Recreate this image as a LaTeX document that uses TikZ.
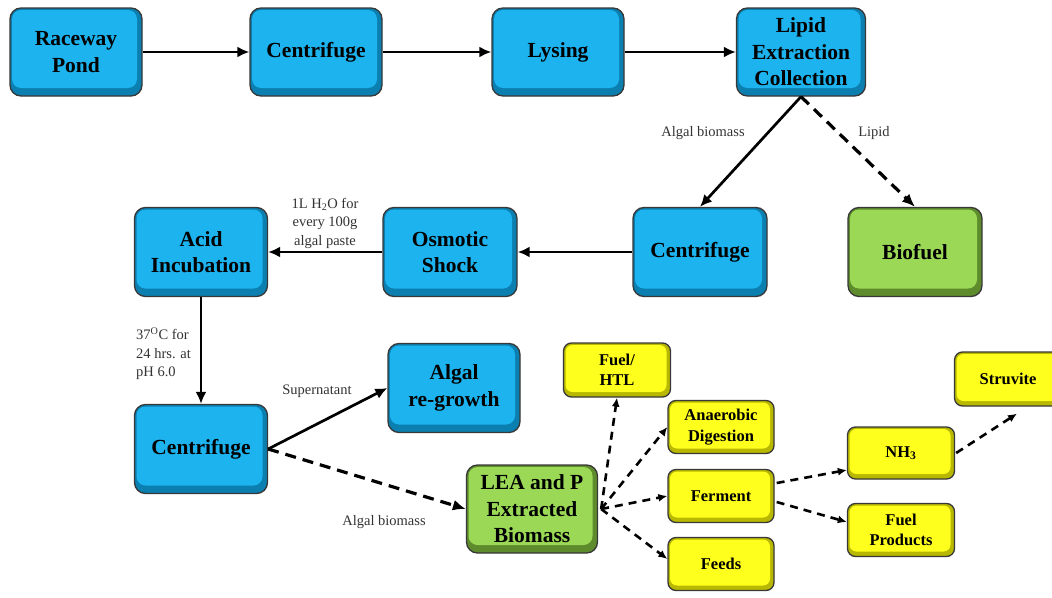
\documentclass[tikz,border=0pt]{standalone}
\usepackage{fontspec}
\setmainfont{Liberation Serif}
\usetikzlibrary{arrows.meta}
\definecolor{bluef}{HTML}{1DB3EE}
\definecolor{blued}{HTML}{0B7FB0}
\definecolor{greenf}{HTML}{9AD856}
\definecolor{greend}{HTML}{5E8C2C}
\definecolor{yellowf}{HTML}{FFFF1E}
\definecolor{yellowd}{HTML}{B8B800}
\definecolor{edge}{HTML}{383838}
\definecolor{lbl}{HTML}{333333}
\tikzset{
  basebox/.style={draw=edge, line width=1.3pt, rounded corners=11pt, align=center, inner sep=0pt, text=black},
  bevel/.style={path picture={\fill[#1, rounded corners=9pt]
      ([xshift=2pt,yshift=-2pt]path picture bounding box.north west) rectangle
      ([xshift=-5pt,yshift=8pt]path picture bounding box.south east);}},
  bluebox/.style={basebox, fill=blued, bevel=bluef, minimum width=132pt, minimum height=88pt,
      font=\fontsize{21.5}{26.5}\selectfont\bfseries},
  greenbox/.style={basebox, fill=greend, bevel=greenf, minimum width=132pt, minimum height=88pt,
      font=\fontsize{21.5}{26.5}\selectfont\bfseries},
  ybox/.style={basebox, rounded corners=8pt, fill=yellowd, minimum width=107pt, minimum height=53pt,
      font=\fontsize{16.5}{20.5}\selectfont\bfseries,
      path picture={\fill[yellowf, rounded corners=7pt]
      ([xshift=2pt,yshift=-2pt]path picture bounding box.north west) rectangle
      ([xshift=-4pt,yshift=5pt]path picture bounding box.south east);}},
  lab/.style={font=\fontsize{14.5}{18.5}\selectfont, text=lbl, align=center, inner sep=0pt},
  sol/.style={line width=2.7pt, -{Latex[length=12pt,width=11pt]}},
  das/.style={line width=3.2pt, dash pattern=on 11pt off 7pt, -{Latex[length=13pt,width=11pt]}},
  dasy/.style={line width=2.6pt, dash pattern=on 8pt off 6pt, -{Latex[length=9pt,width=8pt]}},
}
\begin{document}
\begin{tikzpicture}[x=1pt,y=-1pt]
\useasboundingbox (0,0) rectangle (1052,597);
\fill[white] (0,0) rectangle (1052,597);
% top row
\node[bluebox] (raceway) at (76,52) {Raceway\\Pond};
\node[bluebox] (cent1) at (316,52) {Centrifuge};
\node[bluebox] (lysing) at (558,52) {Lysing};
\node[bluebox, minimum width=129pt] (lipid) at (801,52) {Lipid\\Extraction\\Collection};
% second row
\node[bluebox, minimum width=134pt, minimum height=89pt] (cent2) at (700,252) {Centrifuge};
\node[greenbox, minimum width=134pt, minimum height=89pt] (biofuel) at (915,252) {Biofuel};
\node[bluebox, minimum width=134pt, minimum height=89pt] (osmotic) at (450,252) {Osmotic\\Shock};
\node[bluebox, minimum width=133pt, minimum height=89pt] (acid) at (201,252) {Acid\\Incubation};
% third row
\node[bluebox, minimum width=133pt, minimum height=89pt] (cent3) at (201,449) {Centrifuge};
\node[bluebox, minimum height=89pt] (regrowth) at (454,388) {Algal\\re-growth};
\node[greenbox, minimum width=131pt] (lea) at (532,509) {LEA and P\\Extracted\\Biomass};
% yellow
\node[ybox, minimum height=54pt] (fuelhtl) at (617,370) {Fuel/\\HTL};
\node[ybox, minimum width=106pt] (anaer) at (721,427) {Anaerobic\\Digestion};
\node[ybox, minimum width=106pt] (ferment) at (721,496) {Ferment};
\node[ybox, minimum width=106pt] (feeds) at (721,564) {Feeds};
\node[ybox, minimum height=52pt] (nh3) at (901,453) {NH\textsubscript{3}};
\node[ybox] (fuelprod) at (901,530) {Fuel\\Products};
\node[ybox, minimum height=54pt] (struvite) at (1008,379) {Struvite};
% connectors
\draw[sol] (raceway) -- (cent1);
\draw[sol] (cent1) -- (lysing);
\draw[sol] (lysing) -- (lipid);
\draw[sol] (lipid.south) -- (cent2.north);
\draw[das] (lipid.south) -- (biofuel.north);
\draw[sol] (cent2) -- (osmotic);
\draw[sol] (osmotic) -- (acid);
\draw[sol] (acid) -- (cent3);
\draw[sol] (cent3.east) -- (regrowth.west);
\draw[das] (cent3.east) -- (lea.west);
\coordinate (hub) at ([xshift=3pt]lea.east);
\draw[dasy] (hub) -- (fuelhtl.south);
\draw[dasy] (hub) -- (anaer.west);
\draw[dasy] (hub) -- (ferment.west);
\draw[dasy] (hub) -- ([yshift=5pt]feeds.west);
\draw[dasy] ([xshift=2pt,yshift=13pt]ferment.east) -- ([yshift=-17pt]nh3.west);
\draw[dasy] ([xshift=2pt,yshift=-6pt]ferment.east) -- ([yshift=8pt]fuelprod.west);
\coordinate (stv) at ([xshift=9pt,yshift=-7pt]struvite.south);
\draw[dasy] ([xshift=1pt]nh3.east) -- (stv);
% labels
\node[lab] (l1) at (703,133) {Algal biomass};
\node[lab] (l2) at (874,133) {Lipid};
\node[lab] (l3) at (325,223) {1L H\textsubscript{2}O for\\every 100g\\algal paste};
\node[lab, align=left, anchor=west] (l4) at (136,354) {37\textsuperscript{O}C for\\24 hrs. at\\pH 6.0};
\node[lab] (l5) at (317,391) {Supernatant};
\node[lab] (l6) at (384,522) {Algal biomass};
\end{tikzpicture}
\end{document}
